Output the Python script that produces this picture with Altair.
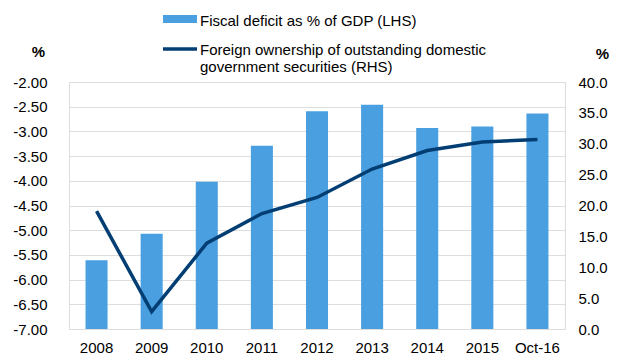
import altair as alt
import pandas as pd

categories = ["2008", "2009", "2010", "2011", "2012", "2013", "2014", "2015", "Oct-16"]
deficit = [-5.61, -5.07, -4.02, -3.29, -2.59, -2.46, -2.93, -2.90, -2.64]
foreign = [19.1, 2.8, 13.9, 18.7, 21.3, 25.9, 28.9, 30.3, 30.7]

left_ticks = [-7.0, -6.5, -6.0, -5.5, -5.0, -4.5, -4.0, -3.5, -3.0, -2.5, -2.0]
right_ticks = [0, 5, 10, 15, 20, 25, 30, 35, 40]

legend_bar = "Fiscal deficit as % of GDP (LHS)"
legend_line = ["Foreign ownership of outstanding domestic", "government securities (RHS)"]

BAR = "#4a9fe0"
LINE = "#023e73"
FONT = "Liberation Sans"

df = pd.DataFrame({"cat": categories, "deficit": deficit, "foreign": foreign})

xenc = alt.X(
    "cat:N",
    sort=categories,
    scale=alt.Scale(paddingInner=0.6, paddingOuter=0.3),
    axis=alt.Axis(title=None, labelAngle=0, labelPadding=11, ticks=False, domain=False,
                  labelFontSize=15, grid=False),
)

bars = alt.Chart(df).mark_bar(color=BAR).encode(
    x=xenc,
    y=alt.Y(
        "deficit:Q",
        scale=alt.Scale(domain=[-7, -2], zero=False, nice=False),
        axis=alt.Axis(
            values=left_ticks,
            labelExpr="replace(format(datum.value, '.2f'), '\u2212', '-')",
            title="%", titleAngle=0, titleX=-31, titleY=-31,
            titleAlign="center", titleBaseline="middle", titleFontWeight="bold",
            titleFontSize=15, labelPadding=22, ticks=False, domain=False, grid=True,
            labelFontSize=15,
        ),
    ),
    y2=alt.datum(-7),
)

line = alt.Chart(df).mark_line(color=LINE, strokeWidth=3.5).encode(
    x=xenc,
    y=alt.Y(
        "foreign:Q",
        scale=alt.Scale(domain=[0, 40], nice=False),
        axis=alt.Axis(
            orient="right", values=right_ticks, format=".1f", title="%", titleAngle=0,
            titleX=37, titleY=-29, titleAlign="center", titleBaseline="middle",
            titleFontWeight="bold", titleFontSize=15, labelPadding=13, ticks=False,
            domain=False, grid=False, labelFontSize=15,
        ),
    ),
)

one = alt.Data(values=[{"a": 1}])

leg_rect = alt.Chart(one).mark_rect(color=BAR).encode(
    x=alt.value(94), x2=alt.value(128), y=alt.value(-67), y2=alt.value(-59)
)
leg_rule = alt.Chart(one).mark_rule(color=LINE, strokeWidth=3.5).encode(
    x=alt.value(94), x2=alt.value(128), y=alt.value(-33)
)
leg_t1 = alt.Chart(one).mark_text(
    text=legend_bar, align="left", baseline="middle", fontSize=15, font=FONT, color="#000"
).encode(x=alt.value(131), y=alt.value(-61))
leg_t2 = alt.Chart(one).mark_text(
    text=legend_line[0], align="left", baseline="middle", fontSize=15, font=FONT, color="#000"
).encode(x=alt.value(131), y=alt.value(-32))
leg_t3 = alt.Chart(one).mark_text(
    text=legend_line[1], align="left", baseline="middle", fontSize=15, font=FONT, color="#000"
).encode(x=alt.value(131), y=alt.value(-15))

main = alt.layer(bars, line).resolve_scale(y="independent")

chart = alt.layer(main, leg_rect, leg_rule, leg_t1, leg_t2, leg_t3).properties(
    width=496,
    height=247,
    autosize=alt.AutoSizeParams(type="none"),
    padding={"left": 69, "top": 82, "right": 54, "bottom": 32},
).configure_view(stroke=None).configure_axis(
    gridColor="#d9d9d9", gridWidth=1, labelFont=FONT, titleFont=FONT,
    labelColor="#000", titleColor="#000",
).configure(background="white")

chart.save("out.html", embed_options={"renderer": "svg", "actions": False})
